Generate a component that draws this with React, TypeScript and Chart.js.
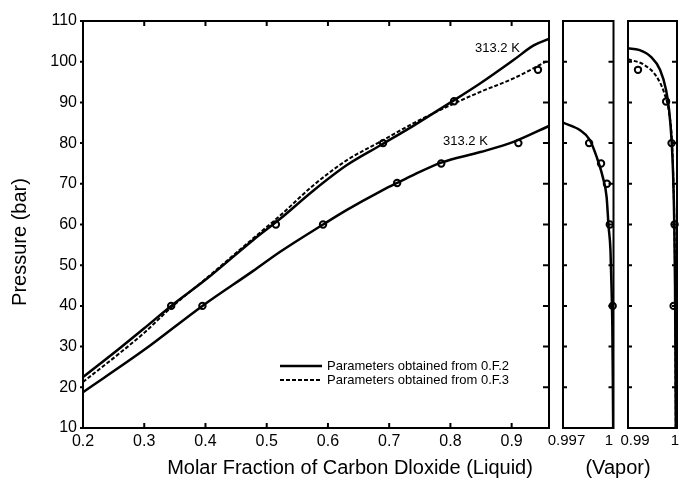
import React, { useEffect, useRef } from "react";
import { Chart, registerables } from "chart.js";

Chart.register(...registerables);

const FONT = '"Liberation Sans", Arial, Helvetica, sans-serif';

// ---- tick values ----
const yTicks = [10, 20, 30, 40, 50, 60, 70, 80, 90, 100, 110];
const liquidXTicks = [0.2, 0.3, 0.4, 0.5, 0.6, 0.7, 0.8, 0.9];
const vaporLowXTicks = [0.997, 1];
const vaporHighXTicks = [0.99, 1];

// ---- liquid phase (main panel) ----
const liqHighF2X = [0.2, 0.26, 0.3, 0.344, 0.4, 0.478, 0.522, 0.576, 0.631, 0.685, 0.74, 0.794, 0.849, 0.903, 0.936, 0.961];
const liqHighF2Y = [22.5, 29.6, 34.5, 40, 46.4, 56.2, 61.4, 68.3, 74.6, 79.4, 84.3, 89.4, 94.7, 100.4, 104.0, 105.6];
const liqHighF3X = [0.2, 0.26, 0.3, 0.344, 0.4, 0.478, 0.522, 0.576, 0.631, 0.685, 0.74, 0.794, 0.849, 0.903, 0.961];
const liqHighF3Y = [21.3, 28.4, 33.4, 39.6, 46.6, 56.6, 62.2, 69.6, 75.8, 80.3, 84.9, 88.9, 92.6, 95.9, 100.4];
const liqLowF2X = [0.2, 0.3, 0.395, 0.478, 0.522, 0.592, 0.631, 0.685, 0.713, 0.74, 0.785, 0.849, 0.903, 0.961];
const liqLowF2Y = [18.8, 29.2, 40, 48.6, 53.3, 60, 63.6, 68.1, 70.2, 72.2, 75.2, 77.8, 80.3, 84.2];
const liqHighPtsX = [0.344, 0.515, 0.69, 0.806, 0.943];
const liqHighPtsY = [40, 60, 80, 90.3, 98];
const liqLowPtsX = [0.395, 0.592, 0.713, 0.785, 0.911];
const liqLowPtsY = [40, 60, 70.2, 75, 80];

// ---- vapor phase, low pressure branch (middle panel) ----
const vapLowX = [0.997, 0.998, 0.99859, 0.999, 0.99936, 0.99959, 0.99971, 0.99982, 0.99988, 0.99993, 0.99996, 0.99998];
const vapLowY = [85, 83.2, 80.8, 76.6, 71.7, 66.8, 59.4, 53.7, 45, 35, 22, 10];
const vapLowPtsX = [0.99855, 0.99926, 0.99961, 0.99978, 0.99995];
const vapLowPtsY = [80, 75, 70, 60, 40];

// ---- vapor phase, high pressure branch (right panel) ----
const vapHighF2X = [0.99, 0.99222, 0.99468, 0.99654, 0.99778, 0.99839, 0.99889, 0.9992, 0.99945, 0.9996, 0.9997, 0.99975];
const vapHighF2Y = [103.3, 102.9, 101.2, 98, 93, 88.1, 80.8, 72.6, 60, 45, 25, 10];
const vapHighF3X = [0.99, 0.99333, 0.99585, 0.99742, 0.99839, 0.999, 0.99928, 0.99947, 0.99962, 0.9997, 0.99976];
const vapHighF3Y = [100.6, 99.2, 96.3, 92.2, 87.4, 80, 70, 60, 45, 25, 10];
const vapHighPtsX = [0.99204, 0.99778, 0.99889, 0.9995, 0.99931];
const vapHighPtsY = [98, 90.2, 80, 60, 40];

const legendLabels = ["Parameters obtained from 0.F.2", "Parameters obtained from 0.F.3"];
const curveLabels = ["313.2 K", "313.2 K"];

const pts = (xs: number[], ys: number[]) => xs.map((x, i) => ({ x, y: ys[i] }));

const curve = (xs: number[], ys: number[], dashed: boolean) => ({
  data: pts(xs, ys),
  showLine: true,
  borderColor: "#000",
  borderWidth: dashed ? 2 : 2.5,
  borderDash: dashed ? [4, 2] : [],
  pointRadius: 0,
  cubicInterpolationMode: "monotone",
  fill: false,
});

const markers = (xs: number[], ys: number[]) => ({
  data: pts(xs, ys),
  showLine: false,
  pointStyle: "circle",
  pointRadius: 3.2,
  borderWidth: 2,
  borderColor: "#000",
  backgroundColor: "rgba(0,0,0,0)",
  clip: false,
});

type FrameOpts = {
  xTicks: number[];
  bottomIn?: number;
  topIn?: number;
  leftIn?: number;
  leftOut?: number;
  rightIn?: number;
  extra?: (chart: any, ctx: CanvasRenderingContext2D) => void;
};

const framePlugin = (o: FrameOpts) => ({
  id: "frame",
  afterDraw(chart: any) {
    const { ctx, chartArea: a, scales } = chart;
    const xs = scales.x;
    const ys = scales.y;
    ctx.save();
    ctx.strokeStyle = "#000";
    ctx.lineWidth = 2;
    ctx.strokeRect(a.left, a.top, a.right - a.left, a.bottom - a.top);
    ctx.beginPath();
    for (const v of yTicks) {
      const py = ys.getPixelForValue(v);
      if (o.leftIn) { ctx.moveTo(a.left, py); ctx.lineTo(a.left + o.leftIn, py); }
      if (o.leftOut) { ctx.moveTo(a.left, py); ctx.lineTo(a.left - o.leftOut, py); }
      if (o.rightIn) { ctx.moveTo(a.right, py); ctx.lineTo(a.right - o.rightIn, py); }
    }
    for (const v of o.xTicks) {
      const px = xs.getPixelForValue(v);
      if (o.bottomIn) { ctx.moveTo(px, a.bottom); ctx.lineTo(px, a.bottom - o.bottomIn); }
      if (o.topIn) { ctx.moveTo(px, a.top); ctx.lineTo(px, a.top + o.topIn); }
    }
    ctx.stroke();
    ctx.fillStyle = "#000";
    if (o.extra) o.extra(chart, ctx);
    ctx.restore();
  },
});

const baseOptions = (padding: any) => ({
  responsive: false,
  animation: false,
  devicePixelRatio: 1,
  events: [],
  layout: { padding },
  plugins: { legend: { display: false }, tooltip: { enabled: false }, title: { display: false } },
});

export default function App() {
  const c1 = useRef<HTMLCanvasElement>(null);
  const c2 = useRef<HTMLCanvasElement>(null);
  const c3 = useRef<HTMLCanvasElement>(null);

  useEffect(() => {
    const charts: Chart[] = [];

    // main liquid panel
    charts.push(
      new Chart(c1.current!, {
        type: "scatter",
        data: {
          datasets: [
            curve(liqHighF2X, liqHighF2Y, false),
            curve(liqHighF3X, liqHighF3Y, true),
            curve(liqLowF2X, liqLowF2Y, false),
            markers(liqHighPtsX, liqHighPtsY),
            markers(liqLowPtsX, liqLowPtsY),
          ] as any,
        },
        options: {
          ...baseOptions({ left: 0, top: 21, right: 7, bottom: 0 }),
          scales: {
            x: {
              type: "linear",
              min: 0.2,
              max: 0.961,
              afterBuildTicks: (s: any) => { s.ticks = liquidXTicks.map((v) => ({ value: v })); },
              afterFit: (s: any) => { s.height = 51; },
              grid: { display: false, drawTicks: false },
              border: { display: false },
              ticks: {
                font: { family: FONT, size: 16 },
                color: "#000",
                padding: 4,
                autoSkip: false,
                maxRotation: 0,
                callback: (v: any) => String(v),
              },
            },
            y: {
              type: "linear",
              min: 10,
              max: 110,
              afterBuildTicks: (s: any) => { s.ticks = yTicks.map((v) => ({ value: v })); },
              afterFit: (s: any) => { s.width = 83; },
              grid: { display: false, drawTicks: false },
              border: { display: false },
              ticks: {
                font: { family: FONT, size: 16 },
                color: "#000",
                padding: 6,
                autoSkip: false,
                callback: (v: any) => String(v),
              },
            },
          },
        } as any,
        plugins: [
          framePlugin({
            xTicks: liquidXTicks,
            bottomIn: 5,
            topIn: 5,
            leftOut: 3,
            rightIn: 6,
            extra: (chart, ctx) => {
              // axis titles
              ctx.font = `20px ${FONT}`;
              ctx.textAlign = "center";
              ctx.textBaseline = "alphabetic";
              ctx.fillText("Molar Fraction of Carbon Dloxide (Liquid)", 350, 474);
              ctx.save();
              ctx.translate(26, 242);
              ctx.rotate(-Math.PI / 2);
              ctx.fillText("Pressure (bar)", 0, 0);
              ctx.restore();
              // curve labels
              ctx.font = `13px ${FONT}`;
              ctx.textAlign = "left";
              ctx.fillText(curveLabels[0], 475, 51.5);
              ctx.fillText(curveLabels[1], 443, 145);
              // legend
              ctx.lineWidth = 2.5;
              ctx.beginPath();
              ctx.moveTo(280, 366);
              ctx.lineTo(322, 366);
              ctx.stroke();
              ctx.lineWidth = 2;
              ctx.setLineDash([4, 2]);
              ctx.beginPath();
              ctx.moveTo(280, 380);
              ctx.lineTo(322, 380);
              ctx.stroke();
              ctx.setLineDash([]);
              ctx.fillText(legendLabels[0], 327, 370);
              ctx.fillText(legendLabels[1], 327, 384);
            },
          }),
        ],
      })
    );

    const panelLabels = (ticks: number[], offsets: number[]) => (chart: any, ctx: CanvasRenderingContext2D) => {
      const xs = chart.scales.x;
      ctx.font = `15px ${FONT}`;
      ctx.textAlign = "center";
      ctx.textBaseline = "alphabetic";
      ticks.forEach((v, i) => {
        ctx.fillText(String(v), xs.getPixelForValue(v) + offsets[i], 445);
      });
    };

    // middle vapor panel
    charts.push(
      new Chart(c2.current!, {
        type: "scatter",
        data: {
          datasets: [
            curve(vapLowX, vapLowY, false),
            markers(vapLowPtsX, vapLowPtsY),
          ] as any,
        },
        options: {
          ...baseOptions({ left: 23, top: 21, right: 46.5, bottom: 51 }),
          scales: {
            x: { type: "linear", display: false, min: 0.997, max: 1 },
            y: { type: "linear", display: false, min: 10, max: 110 },
          },
        } as any,
        plugins: [
          framePlugin({
            xTicks: vaporLowXTicks,
            leftIn: 4,
            rightIn: 5,
            extra: (chart, ctx) => {
              panelLabels(vaporLowXTicks, [3.5, -4.5])(chart, ctx);
              ctx.font = `20px ${FONT}`;
              ctx.textAlign = "center";
              ctx.fillText("(Vapor)", 78, 474);
            },
          }),
        ],
      })
    );

    // right vapor panel
    charts.push(
      new Chart(c3.current!, {
        type: "scatter",
        data: {
          datasets: [
            curve(vapHighF2X, vapHighF2Y, false),
            curve(vapHighF3X, vapHighF3Y, true),
            markers(vapHighPtsX, vapHighPtsY),
          ] as any,
        },
        options: {
          ...baseOptions({ left: 16, top: 21, right: 1, bottom: 51 }),
          scales: {
            x: { type: "linear", display: false, min: 0.99, max: 1 },
            y: { type: "linear", display: false, min: 10, max: 110 },
          },
        } as any,
        plugins: [
          framePlugin({
            xTicks: vaporHighXTicks,
            leftIn: 4,
            rightIn: 5,
            extra: (chart, ctx) => panelLabels(vaporHighXTicks, [7, -2])(chart, ctx),
          }),
        ],
      })
    );

    return () => charts.forEach((c) => c.destroy());
  }, []);

  const abs = (left: number, width: number): React.CSSProperties => ({
    position: "absolute",
    left,
    top: 0,
    width,
    height: 479,
  });

  return (
    <div style={{ position: "absolute", left: 0, top: 0, width: 683, height: 479, background: "#fff", overflow: "hidden" }}>
      <canvas ref={c1} width={556} height={479} style={abs(0, 556)} />
      <canvas ref={c2} width={120} height={479} style={abs(540, 120)} />
      <canvas ref={c3} width={71} height={479} style={abs(612, 71)} />
    </div>
  );
}
